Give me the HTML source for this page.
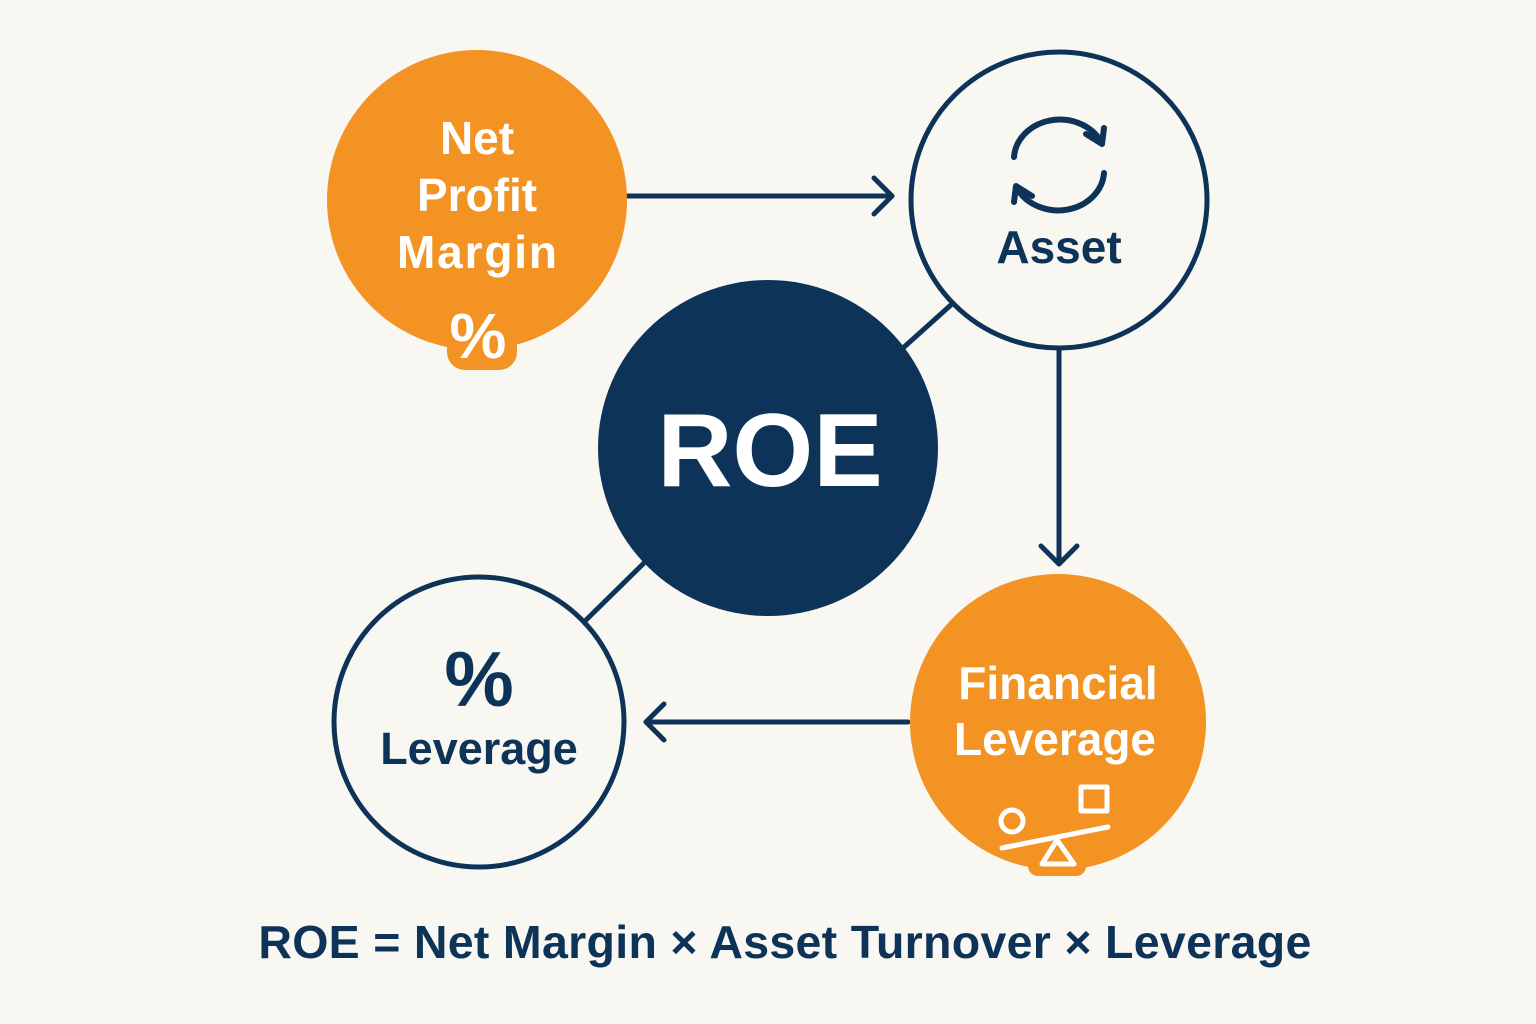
<!DOCTYPE html>
<html><head><meta charset="utf-8"><style>
html,body{margin:0;padding:0;background:#f9f7f2;}
svg{display:block}
</style></head><body>
<svg width="1536" height="1024" viewBox="0 0 1536 1024" xmlns="http://www.w3.org/2000/svg">
<rect width="1536" height="1024" fill="#f9f7f2"/>
<g stroke="#0e3358" stroke-width="5" fill="none" stroke-linecap="round" stroke-linejoin="round">
<line x1="627" y1="196" x2="892" y2="196"/>
<polyline points="874,178 892,196 874,214"/>
<line x1="1059" y1="348" x2="1059" y2="564"/>
<polyline points="1041,546 1059,564 1077,546"/>
<line x1="908" y1="722" x2="646" y2="722"/>
<polyline points="664,704 646,722 664,740"/>
<line x1="952" y1="304" x2="903" y2="348"/>
<line x1="645" y1="562" x2="584" y2="622"/>
</g>
<circle cx="477" cy="200" r="150" fill="#f39323"/>
<rect x="447" y="318" width="70" height="52" rx="18" fill="#f39323"/>
<text fill="#fff" font-family="Liberation Sans, sans-serif" font-weight="bold" font-size="46" text-anchor="middle">
<tspan x="477" y="154">Net</tspan><tspan x="477" y="211">Profit</tspan><tspan x="477" y="268" textLength="160">Margin</tspan></text>
<text x="478" y="358" fill="#fff" font-family="Liberation Sans, sans-serif" font-weight="bold" font-size="64" text-anchor="middle">%</text>
<circle cx="1059" cy="200" r="148" fill="#f9f7f2" stroke="#0e3358" stroke-width="5"/>
<g stroke="#0e3358" stroke-width="6" fill="none" stroke-linecap="round" stroke-linejoin="round">
<path d="M1014,157 A46,40 0 0 1 1100,140"/>
<polyline points="1086,134 1102,144 1104,128"/>
<path d="M1104,173 A46,40 0 0 1 1018,190"/>
<polyline points="1032,196 1016,186 1014,202"/>
</g>
<text x="1059" y="263" fill="#0e3358" font-family="Liberation Sans, sans-serif" font-weight="bold" font-size="46" text-anchor="middle">Asset</text>
<ellipse cx="768" cy="448" rx="170" ry="168" fill="#0e3358"/>
<text x="770" y="486" fill="#fff" font-family="Liberation Sans, sans-serif" font-weight="bold" font-size="104" text-anchor="middle">ROE</text>
<circle cx="479" cy="722" r="145" fill="#f9f7f2" stroke="#0e3358" stroke-width="5"/>
<text x="479" y="706" fill="#0e3358" font-family="Liberation Sans, sans-serif" font-weight="bold" font-size="78" text-anchor="middle">%</text>
<text x="479" y="764" fill="#0e3358" font-family="Liberation Sans, sans-serif" font-weight="bold" font-size="45" text-anchor="middle">Leverage</text>
<circle cx="1058" cy="722" r="148" fill="#f39323"/>
<rect x="1028" y="840" width="58" height="36" rx="10" fill="#f39323"/>
<text fill="#fff" font-family="Liberation Sans, sans-serif" font-weight="bold" font-size="46" text-anchor="middle">
<tspan x="1058" y="699">Financial</tspan><tspan x="1055" y="755">Leverage</tspan></text>
<g stroke="#fff" stroke-width="5" fill="none" stroke-linejoin="round" stroke-linecap="round">
<circle cx="1012" cy="821" r="11"/>
<rect x="1081" y="787" width="26" height="24"/>
<line x1="1002" y1="848" x2="1108" y2="827"/>
<polygon points="1057,840 1042,864 1074,864"/>
</g>
<text x="785" y="958" fill="#0e3358" font-family="Liberation Sans, sans-serif" font-weight="bold" font-size="46.5" letter-spacing="0.3" text-anchor="middle">ROE = Net Margin × Asset Turnover × Leverage</text>
</svg>
</body></html>
